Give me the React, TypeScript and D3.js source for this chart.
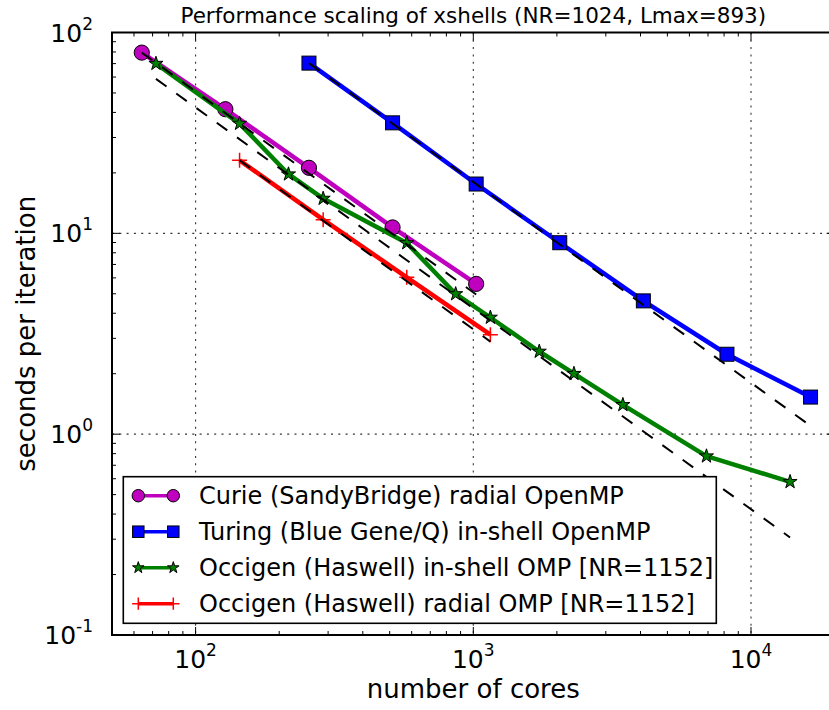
import React from 'react';
import * as d3 from 'd3';

const W = 829;
const H = 710;

const titleText = 'Performance scaling of xshells (NR=1024, Lmax=893)';
const xLabelText = 'number of cores';
const yLabelText = 'seconds per iteration';

const xDomain = [50, 20000];
const yDomain = [0.1, 100];
const xMajorTicks = [100, 1000, 10000];
const xTickExponents = ['2', '3', '4'];
const yMajorTicks = [0.1, 1, 10, 100];
const yTickExponents = ['-1', '0', '1', '2'];

const curieCores = [64, 128, 256, 512, 1024];
const curieTime = [79.4, 41.5, 21.2, 10.7, 5.6];
const turingCores = [256, 512, 1024, 2048, 4096, 8192, 16384];
const turingTime = [70.4, 35.5, 17.6, 8.98, 4.61, 2.5, 1.53];
const occInCores = [72, 144, 216, 288, 576, 864, 1152, 1728, 2304, 3456, 6912, 13824];
const occInTime = [70.0, 35.2, 19.7, 14.9, 8.95, 4.99, 3.81, 2.58, 2.0, 1.4, 0.777, 0.579];
const occRadCores = [144, 288, 576, 1152];
const occRadTime = [23.1, 11.7, 6.04, 3.13];

// ideal-scaling reference lines (end points)
const idealCurieCores = [64, 1024];
const idealCurieTime = [79.4, 4.96];
const idealTuringCores = [256, 16384];
const idealTuringTime = [70.4, 1.1];
const idealOccInCores = [72, 13824];
const idealOccInTime = [58.8, 0.306];
const idealOccRadCores = [144, 1152];
const idealOccRadTime = [23.1, 2.89];

const seriesLabels = [
  'Curie (SandyBridge) radial OpenMP',
  'Turing (Blue Gene/Q) in-shell OpenMP',
  'Occigen (Haswell) in-shell OMP [NR=1152]',
  'Occigen (Haswell) radial OMP [NR=1152]',
];
const seriesColors = ['#bf00bf', '#0000ff', '#008000', '#ff0000'];
const seriesMarkers = ['circle', 'square', 'star', 'plus'];

const FONT = "'DejaVu Sans', 'Liberation Sans', sans-serif";

function zip(a: number[], b: number[]): [number, number][] {
  return a.map((v, i) => [v, b[i]] as [number, number]);
}

function starPath(R: number) {
  const r = R * 0.382;
  const pts: string[] = [];
  for (let i = 0; i < 10; i++) {
    const rad = i % 2 === 0 ? R : r;
    const a = -Math.PI / 2 + (i * Math.PI) / 5;
    pts.push(`${(rad * Math.cos(a)).toFixed(2)},${(rad * Math.sin(a)).toFixed(2)}`);
  }
  return 'M' + pts.join('L') + 'Z';
}

function Marker({ kind, cx, cy, color, scale = 1 }: { kind: string; cx: number; cy: number; color: string; scale?: number }) {
  if (kind === 'circle') {
    return <circle cx={cx} cy={cy} r={7.6 * scale} fill={color} stroke="#000" strokeWidth={1} />;
  }
  if (kind === 'square') {
    const s = 14 * scale;
    return <rect x={cx - s / 2} y={cy - s / 2} width={s} height={s} fill={color} stroke="#000" strokeWidth={1} />;
  }
  if (kind === 'star') {
    return <path d={starPath(7.4 * scale)} transform={`translate(${cx},${cy})`} fill={color} stroke="#000" strokeWidth={1} />;
  }
  const h = 7.5 * scale;
  return (
    <path d={`M${cx - h},${cy}L${cx + h},${cy}M${cx},${cy - h}L${cx},${cy + h}`} stroke={color} strokeWidth={1.5} fill="none" />
  );
}

export default function App() {
  const left = 112;
  const top = 32.5;
  const bottom = 635;
  const x = d3.scaleLog().domain(xDomain).range([left, 834.6]);
  const y = d3.scaleLog().domain(yDomain).range([bottom, top]);
  const right = x(xDomain[1]);

  const line = d3
    .line<[number, number]>()
    .x((d) => x(d[0]))
    .y((d) => y(d[1]));

  const series = [
    zip(curieCores, curieTime),
    zip(turingCores, turingTime),
    zip(occInCores, occInTime),
    zip(occRadCores, occRadTime),
  ];
  const ideals = [
    zip(idealCurieCores, idealCurieTime),
    zip(idealTuringCores, idealTuringTime),
    zip(idealOccInCores, idealOccInTime),
    zip(idealOccRadCores, idealOccRadTime),
  ];

  const xMinor = x.ticks().filter((v) => !xMajorTicks.some((m) => Math.abs(m - v) < 1e-9));
  const yMinor = y.ticks().filter((v) => !yMajorTicks.some((m) => Math.abs(m - v) / m < 1e-9));

  const majorLen = 8;
  const minorLen = 4;
  const tickFs = 25;
  const supFs = 17;

  const legX = 123.3;
  const legY = 476.7;
  const legW = 593;
  const legH = 146.6;
  const rowY = (i: number) => 495.7 + i * 36;

  return (
    <svg
      width={W}
      height={H}
      viewBox={`0 0 ${W} ${H}`}
      style={{ position: 'absolute', left: 0, top: 0, background: '#fff' }}
      fontFamily={FONT}
    >
      <rect x={0} y={0} width={W} height={H} fill="#fff" />
      <defs>
        <clipPath id="plotclip">
          <rect x={left} y={top} width={right - left} height={bottom - top} />
        </clipPath>
      </defs>

      {/* grid */}
      <g stroke="#333" strokeWidth={1.1} strokeDasharray="2,5.3">
        {xMajorTicks.map((v) => (
          <line key={'gx' + v} x1={x(v)} x2={x(v)} y1={top} y2={bottom} />
        ))}
        {yMajorTicks.map((v) => (
          <line key={'gy' + v} x1={left} x2={right} y1={y(v)} y2={y(v)} />
        ))}
      </g>

      {/* series */}
      <g clipPath="url(#plotclip)">
        {series.map((d, i) => (
          <g key={'s' + i}>
            <path d={line(d) || ''} fill="none" stroke={seriesColors[i]} strokeWidth={4.5} strokeLinejoin="round" />
            {d.map((p, j) => (
              <Marker key={j} kind={seriesMarkers[i]} cx={x(p[0])} cy={y(p[1])} color={seriesColors[i]} />
            ))}
          </g>
        ))}
        {ideals.map((d, i) => (
          <path key={'i' + i} d={line(d) || ''} fill="none" stroke="#000" strokeWidth={2} strokeDasharray="13,12" />
        ))}
      </g>

      {/* ticks */}
      <g stroke="#000" strokeWidth={1}>
        {xMajorTicks.map((v) => (
          <g key={'xt' + v}>
            <line x1={x(v)} x2={x(v)} y1={bottom} y2={bottom - majorLen} />
            <line x1={x(v)} x2={x(v)} y1={top} y2={top + majorLen} />
          </g>
        ))}
        {xMinor.map((v) => (
          <g key={'xm' + v}>
            <line x1={x(v)} x2={x(v)} y1={bottom} y2={bottom - minorLen} />
            <line x1={x(v)} x2={x(v)} y1={top} y2={top + minorLen} />
          </g>
        ))}
        {yMajorTicks.map((v) => (
          <g key={'yt' + v}>
            <line x1={left} x2={left + majorLen} y1={y(v)} y2={y(v)} />
            <line x1={right} x2={right - majorLen} y1={y(v)} y2={y(v)} />
          </g>
        ))}
        {yMinor.map((v) => (
          <g key={'ym' + v}>
            <line x1={left} x2={left + minorLen} y1={y(v)} y2={y(v)} />
            <line x1={right} x2={right - minorLen} y1={y(v)} y2={y(v)} />
          </g>
        ))}
      </g>

      {/* spines */}
      <rect x={left} y={top} width={right - left} height={bottom - top} fill="none" stroke="#000" strokeWidth={2} />

      {/* tick labels */}
      <g fill="#000" fontSize={tickFs}>
        {xMajorTicks.map((v, i) => (
          <text key={'xl' + v} x={x(v)} y={668} textAnchor="middle">
            10
            <tspan fontSize={supFs} dy={-12}>
              {xTickExponents[i]}
            </tspan>
          </text>
        ))}
        {yMajorTicks.map((v, i) => (
          <text key={'yl' + v} x={93} y={y(v) + 9} textAnchor="end">
            10
            <tspan fontSize={supFs} dy={-12}>
              {yTickExponents[i]}
            </tspan>
          </text>
        ))}
      </g>

      {/* axis labels and title */}
      <text x={(left + right) / 2} y={698} textAnchor="middle" fontSize={26} fill="#000">
        {xLabelText}
      </text>
      <text
        transform={`translate(35,${(top + bottom) / 2}) rotate(-90)`}
        textAnchor="middle"
        fontSize={26}
        fill="#000"
      >
        {yLabelText}
      </text>
      <text x={(left + right) / 2} y={23} textAnchor="middle" fontSize={21.5} fill="#000">
        {titleText}
      </text>

      {/* legend */}
      <g>
        <rect x={legX} y={legY} width={legW} height={legH} fill="#fff" stroke="#000" strokeWidth={1.6} />
        {seriesLabels.map((lab, i) => (
          <g key={'lg' + i}>
            <line x1={138.3} x2={173.3} y1={rowY(i)} y2={rowY(i)} stroke={seriesColors[i]} strokeWidth={3.5} />
            <Marker kind={seriesMarkers[i]} cx={138.3} cy={rowY(i)} color={seriesColors[i]} scale={0.82} />
            <Marker kind={seriesMarkers[i]} cx={173.3} cy={rowY(i)} color={seriesColors[i]} scale={0.82} />
            <text x={199} y={rowY(i) + 8.5} fontSize={24} fill="#000">
              {lab}
            </text>
          </g>
        ))}
      </g>
    </svg>
  );
}
